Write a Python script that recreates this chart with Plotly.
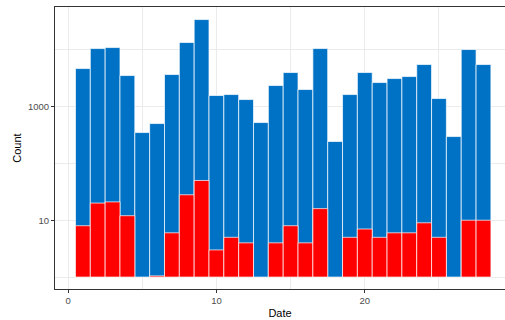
import plotly.graph_objects as go

# Daily counts: all records (blue) and the flagged subset (red)
days = list(range(1, 29))
total_counts = [4650, 10450, 10880, 3500, 348, 501, 3650, 13340, 33820, 1560,
                1622, 1325, 522, 2337, 3956, 1987, 10450, 242, 1622, 3956,
                2637, 3100, 3363, 5470, 1380, 296, 10040, 5470]
flagged_counts = [8, 20, 21, 12, None, 1.05, 6, 28, 50, 3,
                  5, 4, None, 4, 8, 4, 16, None, 5, 7,
                  5, 6, 6, 9, 5, None, 10, 10]

x_ticks = [0, 10, 20]
x_minor = [5, 15, 25]
y_ticks = [10, 1000]
y_tick_text = ["10", "1000"]
y_minor = [1, 100, 10000]

BASE = 1  # bars rise from 1 on the log axis


def heights(values):
    return [None if v is None else v - BASE for v in values]


fig = go.Figure()
fig.add_trace(go.Bar(
    x=days, y=heights(total_counts), base=BASE, width=1,
    marker=dict(color="#0072C6", line=dict(color="white", width=0.7)),
    showlegend=False,
))
fig.add_trace(go.Bar(
    x=days, y=heights(flagged_counts), base=BASE, width=1,
    marker=dict(color="#FF0000", line=dict(color="white", width=0.7)),
    showlegend=False,
))

grid = "#EBEBEB"
fig.update_layout(
    width=505, height=320,
    margin=dict(l=55, r=0, t=7, b=31),
    barmode="overlay",
    plot_bgcolor="white", paper_bgcolor="white",
    font=dict(family="Liberation Sans, Arial, sans-serif", color="black"),
    xaxis=dict(
        range=[-0.88, 29.45],
        tickmode="array", tickvals=x_ticks,
        ticks="outside", ticklen=3, tickcolor="#333333", tickwidth=1,
        tickfont=dict(size=9.5, color="#4D4D4D"),
        showgrid=True, gridcolor=grid, gridwidth=1,
        minor=dict(tickmode="array", tickvals=x_minor, showgrid=True,
                   gridcolor=grid, gridwidth=0.6, ticks=""),
        showline=True, linecolor="#333333", linewidth=1, mirror=True,
        zeroline=False,
        title=dict(text="Date", font=dict(size=11), standoff=3),
    ),
    yaxis=dict(
        type="log", range=[-0.21, 4.75],
        tickmode="array", tickvals=y_ticks, ticktext=y_tick_text,
        ticks="outside", ticklen=3, tickcolor="#333333", tickwidth=1,
        tickfont=dict(size=9.5, color="#4D4D4D"),
        showgrid=True, gridcolor=grid, gridwidth=1,
        minor=dict(tickmode="array", tickvals=y_minor, showgrid=True,
                   gridcolor=grid, gridwidth=0.6, ticks=""),
        showline=True, linecolor="#333333", linewidth=1,
        zeroline=False,
        title=dict(text="Count", font=dict(size=11), standoff=4),
    ),
)

fig.write_html("out.html")
